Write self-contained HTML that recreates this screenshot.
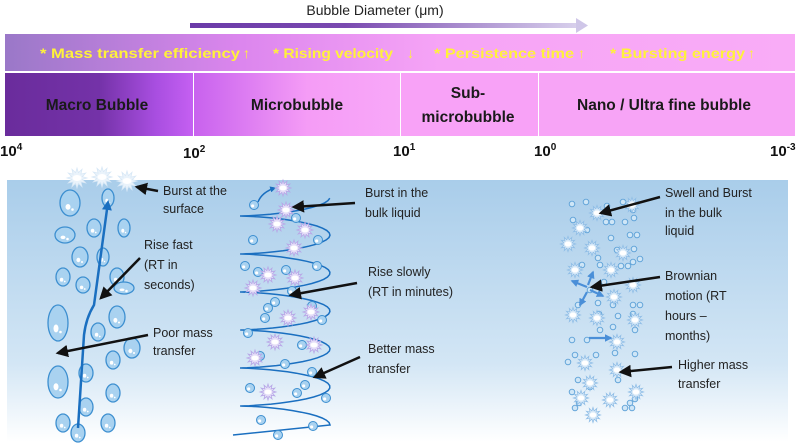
<!DOCTYPE html>
<html><head><meta charset="utf-8"><style>
html,body{margin:0;padding:0;background:#fff;width:799px;height:443px;overflow:hidden}
svg text{font-family:"Liberation Sans","DejaVu Sans",sans-serif}
</style></head><body>
<svg id="s" width="799" height="443" viewBox="0 0 799 443" xmlns="http://www.w3.org/2000/svg">
<defs>
<linearGradient id="arr" x1="0" x2="1"><stop offset="0" stop-color="#6a3aa8"/><stop offset="0.4" stop-color="#7a4ab0"/><stop offset="1" stop-color="#d8d0ec"/></linearGradient>
<linearGradient id="top" x1="0" x2="1"><stop offset="0" stop-color="#9a78c8"/><stop offset="0.3" stop-color="#dc86ee"/><stop offset="0.55" stop-color="#f6a4f6"/><stop offset="1" stop-color="#f9acf7"/></linearGradient>
<linearGradient id="s1" x1="0" x2="1"><stop offset="0" stop-color="#6a2c9c"/><stop offset="0.5" stop-color="#7432a8"/><stop offset="0.8" stop-color="#a84ee0"/><stop offset="1" stop-color="#c560f2"/></linearGradient>
<linearGradient id="s2" x1="0" x2="1"><stop offset="0" stop-color="#c862ee"/><stop offset="0.55" stop-color="#f59cf6"/><stop offset="1" stop-color="#f8a8f8"/></linearGradient>
<linearGradient id="water" x1="0" x2="0" y1="0" y2="1"><stop offset="0" stop-color="#a9cdea"/><stop offset="0.7" stop-color="#d3e6f5"/><stop offset="1" stop-color="#ffffff"/></linearGradient>
<marker id="ah" viewBox="0 0 10 10" refX="8" refY="5" markerWidth="5" markerHeight="5" orient="auto"><path d="M0,0L10,5L0,10z" fill="#111"/></marker>
<marker id="bh" viewBox="0 0 10 10" refX="8" refY="5" markerWidth="4" markerHeight="4" orient="auto"><path d="M0,0L10,5L0,10z" fill="#1a6fc0"/></marker>
<marker id="lh" viewBox="0 0 10 10" refX="8" refY="5" markerWidth="3.5" markerHeight="3.5" orient="auto"><path d="M0,0L10,5L0,10z" fill="#4a8fd8"/></marker>
</defs>
<text x="375" y="15" font-size="14" text-anchor="middle" fill="#222">Bubble Diameter (μm)</text>
<rect x="190" y="23" width="388" height="5" fill="url(#arr)"/>
<path d="M576,18L588,25.5L576,33z" fill="#cfc6e8"/>
<rect x="5" y="34" width="790" height="37" fill="url(#top)"/>
<g font-size="14" font-weight="bold" fill="#fff23a">
<text x="40" y="58" textLength="200" lengthAdjust="spacingAndGlyphs">* Mass transfer efficiency</text><text x="243" y="58">↑</text>
<text x="273" y="58" textLength="120" lengthAdjust="spacingAndGlyphs">* Rising velocity</text><text x="407" y="58">↓</text>
<text x="434" y="58" textLength="140" lengthAdjust="spacingAndGlyphs">* Persistence time</text><text x="578" y="58">↑</text>
<text x="610" y="58" textLength="135" lengthAdjust="spacingAndGlyphs">* Bursting energy</text><text x="748" y="58">↑</text>
</g>
<rect x="5" y="71" width="790" height="2" fill="#fff"/>
<rect x="5" y="73" width="188" height="63" fill="url(#s1)"/>
<rect x="194" y="73" width="206" height="63" fill="url(#s2)"/>
<rect x="401" y="73" width="137" height="63" fill="#f8a2f7"/>
<rect x="539" y="73" width="256" height="63" fill="#f7a4f6"/>
<g font-size="15.5" font-weight="bold" fill="#1a1a1a" text-anchor="middle">
<text x="97" y="110">Macro Bubble</text>
<text x="297" y="110">Microbubble</text>
<text x="468" y="98">Sub-</text>
<text x="468" y="122">microbubble</text>
<text x="664" y="110">Nano / Ultra fine bubble</text>
</g>
<g font-size="15" font-weight="bold" fill="#111">
<text x="0" y="156">10<tspan font-size="10" dy="-6">4</tspan></text>
<text x="183" y="158">10<tspan font-size="10" dy="-6">2</tspan></text>
<text x="393" y="156">10<tspan font-size="10" dy="-6">1</tspan></text>
<text x="534" y="156">10<tspan font-size="10" dy="-6">0</tspan></text>
<text x="770" y="156">10<tspan font-size="10" dy="-6">-3</tspan></text>
</g>
<rect x="7" y="180" width="781" height="262" fill="url(#water)"/>
<g id="g"></g>
<g font-size="12.5" fill="#222">
<text x="163" y="195">Burst at the</text><text x="163" y="213">surface</text>
<text x="144" y="249">Rise fast</text><text x="144" y="269">(RT in</text><text x="144" y="289">seconds)</text>
<text x="153" y="337">Poor mass</text><text x="153" y="355">transfer</text>
<text x="365" y="197">Burst in the</text><text x="365" y="217">bulk liquid</text>
<text x="368" y="276">Rise slowly</text><text x="368" y="296">(RT in minutes)</text>
<text x="368" y="353">Better mass</text><text x="368" y="373">transfer</text>
<text x="665" y="197">Swell and Burst</text><text x="665" y="217">in the bulk</text><text x="665" y="235">liquid</text>
<text x="665" y="280">Brownian</text><text x="665" y="300">motion (RT</text><text x="665" y="320">hours –</text><text x="665" y="340">months)</text>
<text x="678" y="369">Higher mass</text><text x="678" y="388">transfer</text>
</g>
<g stroke="#111" stroke-width="2.5" marker-end="url(#ah)">
<line x1="158" y1="191" x2="137" y2="187"/>
<line x1="140" y1="258" x2="101" y2="298"/>
<line x1="148" y1="335" x2="58" y2="353"/>
<line x1="355" y1="203" x2="294" y2="207"/>
<line x1="357" y1="283" x2="291" y2="295"/>
<line x1="360" y1="357" x2="315" y2="377"/>
<line x1="660" y1="197" x2="601" y2="213"/>
<line x1="660" y1="277" x2="592" y2="287"/>
<line x1="672" y1="367" x2="621" y2="372"/>
</g>
</svg>
<script>
var g=document.getElementById('g'),h='';
[[70,203,10,13],[108,198,6,9],[65,235,10,8],[94,228,7,9],[124,228,6,9],[80,257,8,10],[103,257,6,9],[63,277,7,9],[83,285,7,8],[117,277,7,9],[124,288,10,6],[58,323,10,18],[98,332,7,9],[117,317,8,11],[132,348,8,10],[113,360,7,9],[58,382,10,16],[86,373,7,9],[113,393,7,9],[86,407,7,9],[63,423,7,9],[108,423,7,9],[78,433,7,9]].forEach(function(b){
h+='<ellipse cx="'+b[0]+'" cy="'+b[1]+'" rx="'+b[2]+'" ry="'+b[3]+'" fill="#a9d2f0" stroke="#3d8fd0" stroke-width="1.3"/>';
h+='<ellipse cx="'+(b[0]-b[2]*0.2)+'" cy="'+(b[1]+b[3]*0.3)+'" rx="'+b[2]*0.25+'" ry="'+b[3]*0.22+'" fill="#fff"/>';
h+='<circle cx="'+(b[0]+b[2]*0.25)+'" cy="'+(b[1]+b[3]*0.5)+'" r="'+b[2]*0.13+'" fill="#fff"/>';});
h+='<path d="M78,428 L84,335 Q86,318 94,305 L108,202" fill="none" stroke="#1a6fc0" stroke-width="2.5" marker-end="url(#bh)"/>';
function star(x,y,r,c,f){var p='';for(var i=0;i<24;i++){var a=i*Math.PI/12,rr=i%2?r*0.55:r;p+=(i?'L':'M')+(x+rr*Math.cos(a)).toFixed(1)+','+(y+rr*Math.sin(a)).toFixed(1);}
return '<path d="'+p+'z" fill="'+f+'" stroke="'+c+'" stroke-width="0.8"/><ellipse cx="'+x+'" cy="'+y+'" rx="'+r*0.45+'" ry="'+r*0.3+'" fill="#fff"/>';}
[[77,178],[102,177],[127,181]].forEach(function(s){h+=star(s[0],s[1],10,'#d8e8f6','#eaf3fb');});
var p='M233,435 L330,425';
for(var t=0;t<=6*2*Math.PI;t+=0.2){var x=285+45*Math.cos(t),y=425-t/(2*Math.PI)*38-6*Math.sin(t);p+=' L'+x.toFixed(1)+','+y.toFixed(1);}
h+='<path d="'+p+'" fill="none" stroke="#1a6fc0" stroke-width="1.5"/>';
h+='<path d="M258,202 Q262,192 275,188" fill="none" stroke="#1a6fc0" stroke-width="1.5" marker-end="url(#bh)"/>';
function sb(x,y,r){return '<circle cx="'+x+'" cy="'+y+'" r="'+r+'" fill="#a9d2f0" stroke="#3d8fd0" stroke-width="1"/><circle cx="'+(x-r*0.3)+'" cy="'+(y+r*0.2)+'" r="'+r*0.35+'" fill="#fff"/>';}
[[254,205],[296,218],[253,240],[318,240],[245,266],[258,272],[286,270],[317,266],[275,302],[292,291],[312,306],[265,318],[322,320],[248,333],[260,356],[302,345],[285,364],[312,372],[250,388],[297,393],[326,398],[261,420],[313,426],[278,435],[268,308],[305,385]].forEach(function(b){h+=sb(b[0],b[1],4.5);});
[[283,188],[286,210],[277,224],[305,230],[294,248],[268,275],[295,278],[253,288],[288,318],[311,312],[275,342],[314,345],[255,358],[268,392]].forEach(function(s){h+=star(s[0],s[1],8,'#b6a6e6','#e6e0f8');});
var sm=[[572,204],[586,202],[607,206],[623,202],[633,210],[573,220],[606,222],[612,222],[625,222],[634,218],[587,230],[611,238],[630,235],[637,235],[617,250],[634,249],[598,258],[600,265],[582,265],[621,266],[628,266],[633,262],[640,259],[604,282],[590,290],[598,303],[578,305],[613,305],[633,305],[640,305],[599,314],[618,316],[633,314],[572,340],[587,340],[600,330],[613,327],[635,330],[575,355],[596,355],[615,353],[635,354],[568,362],[578,380],[618,380],[590,387],[572,392],[579,403],[630,403],[575,408],[625,408],[632,408],[635,399]];
sm.forEach(function(b){h+='<circle cx="'+b[0]+'" cy="'+b[1]+'" r="2.8" fill="#cfe6f7" stroke="#5a9fd6" stroke-width="0.9"/>';});
[[597,213],[580,228],[632,205],[568,244],[592,248],[623,253],[575,270],[611,270],[633,285],[614,297],[573,315],[597,318],[635,320],[617,342],[585,363],[617,370],[590,383],[636,392],[581,398],[610,400],[593,415]].forEach(function(s){h+=star(s[0],s[1],7.5,'#8fbde6','#e4f0fa');});
h+='<g stroke="#4a8fd8" stroke-width="2.2" marker-end="url(#lh)"><line x1="587" y1="287" x2="572" y2="281"/><line x1="588" y1="285" x2="593" y2="272"/><line x1="590" y1="290" x2="603" y2="296"/><line x1="587" y1="292" x2="580" y2="305"/><line x1="589" y1="338" x2="611" y2="338"/></g>';
g.innerHTML=h;
</script>
</body></html>
